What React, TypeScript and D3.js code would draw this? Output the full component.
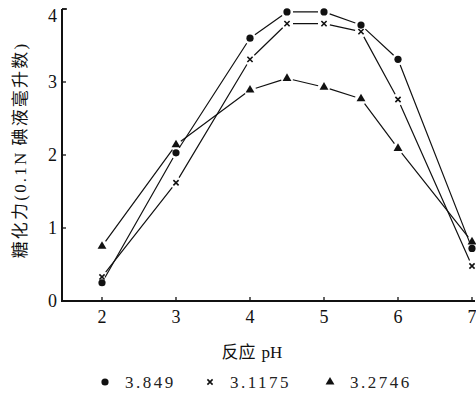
import React from 'react';
import * as d3 from 'd3';

// reaction pH values
const phValues = [2, 3, 4, 4.5, 5, 5.5, 6, 7];
// saccharifying power for the three samples
const seriesDot = [0.25, 2.03, 3.6, 3.96, 3.96, 3.78, 3.31, 0.72];
const seriesCross = [0.33, 1.62, 3.31, 3.8, 3.8, 3.69, 2.76, 0.48];
const seriesTri = [0.75, 2.14, 2.89, 3.05, 2.93, 2.77, 2.09, 0.81];
const legendLabels = ['3.849', '3.1175', '3.2746'];
const xTicks = [2, 3, 4, 5, 6, 7];
const yTicks = [0, 1, 2, 3, 4];

const W = 476;
const H = 399;
const serif = 'Liberation Serif, DejaVu Serif, serif';
const cjk = 'Noto Sans CJK SC, sans-serif';

const x = d3.scaleLinear().domain([2, 7]).range([102, 472]);
const y = d3.scaleLinear().domain([0, 4]).range([301, 9]);

// segments between markers with a small gap at each end, like the print
const gappedSegments = (vals: number[], gap = 6) => {
  const segs: string[] = [];
  for (let i = 0; i < vals.length - 1; i++) {
    const x1 = x(phValues[i]), y1 = y(vals[i]);
    const x2 = x(phValues[i + 1]), y2 = y(vals[i + 1]);
    const len = Math.hypot(x2 - x1, y2 - y1);
    const ux = (x2 - x1) / len, uy = (y2 - y1) / len;
    segs.push(
      `M${x1 + ux * gap},${y1 + uy * gap}L${x2 - ux * gap},${y2 - uy * gap}`
    );
  }
  return segs.join('');
};

const Marker = ({ kind, cx, cy }: { kind: string; cx: number; cy: number }) => {
  if (kind === 'dot') return <circle cx={cx} cy={cy} r={3.6} fill="#111" />;
  if (kind === 'cross') {
    const s = 2.6;
    return (
      <path
        d={`M${cx - s},${cy - s}L${cx + s},${cy + s}M${cx + s},${cy - s}L${cx - s},${cy + s}`}
        stroke="#111"
        strokeWidth={1.6}
      />
    );
  }
  const tri = d3.symbol().type(d3.symbolTriangle).size(34)();
  return <path d={tri || ''} transform={`translate(${cx},${cy})`} fill="#111" />;
};

const series = [
  { kind: 'dot', vals: seriesDot },
  { kind: 'cross', vals: seriesCross },
  { kind: 'tri', vals: seriesTri },
];

export default function App() {
  const legendX = [105, 210, 330];
  return (
    <svg
      width={W}
      height={H}
      style={{ position: 'absolute', left: 0, top: 0, background: '#fff' }}
    >
      {/* axes */}
      <path d={`M62,${y(4)}V${y(0)}H475`} fill="none" stroke="#111" strokeWidth={2} />
      <path d={`M62,${y(4)}H67`} stroke="#111" strokeWidth={1.5} />
      {yTicks.map((t) => (
        <g key={'y' + t}>
          <line x1={62} x2={66} y1={y(t)} y2={y(t)} stroke="#111" strokeWidth={1.3} />
          <text
            x={57}
            y={y(t)}
            dy={t === 4 ? '0.7em' : '0.35em'}
            textAnchor="end"
            style={{ fontFamily: serif, fontSize: 18 }}
            fill="#111"
          >
            {t}
          </text>
        </g>
      ))}
      {xTicks.map((t) => (
        <g key={'x' + t}>
          <line x1={x(t)} x2={x(t)} y1={y(0)} y2={y(0) - 4} stroke="#111" strokeWidth={1.3} />
          <text
            x={x(t)}
            y={323}
            textAnchor="middle"
            style={{ fontFamily: serif, fontSize: 18 }}
            fill="#111"
          >
            {t}
          </text>
        </g>
      ))}

      {/* y axis title */}
      <text
        transform="translate(26,150) rotate(-90)"
        textAnchor="middle"
        style={{ fontSize: 17, letterSpacing: 2.2 }}
        fill="#111"
      >
        <tspan style={{ fontFamily: cjk }}>糖化力</tspan>
        <tspan style={{ fontFamily: serif }}>(0.1N</tspan>
        <tspan dx={5} style={{ fontFamily: cjk }}>碘液毫升数</tspan>
        <tspan style={{ fontFamily: serif }}>)</tspan>
      </text>

      {/* x axis title */}
      <text x={252} y={358} textAnchor="middle" style={{ fontSize: 17 }} fill="#111">
        <tspan style={{ fontFamily: cjk }}>反应</tspan>
        <tspan dx={6} style={{ fontFamily: serif }}>pH</tspan>
      </text>

      {/* lines and markers */}
      {series.map((s) => (
        <g key={s.kind}>
          <path d={gappedSegments(s.vals)} fill="none" stroke="#111" strokeWidth={1.2} />
          {s.vals.map((v, i) => (
            <Marker key={i} kind={s.kind} cx={x(phValues[i])} cy={y(v)} />
          ))}
        </g>
      ))}

      {/* legend */}
      {series.map((s, i) => (
        <g key={'lg' + i}>
          <Marker kind={s.kind} cx={legendX[i]} cy={382} />
          <text
            x={legendX[i] + 20}
            y={388}
            style={{ fontFamily: serif, fontSize: 17, letterSpacing: 2.5 }}
            fill="#222"
          >
            {legendLabels[i]}
          </text>
        </g>
      ))}
    </svg>
  );
}
